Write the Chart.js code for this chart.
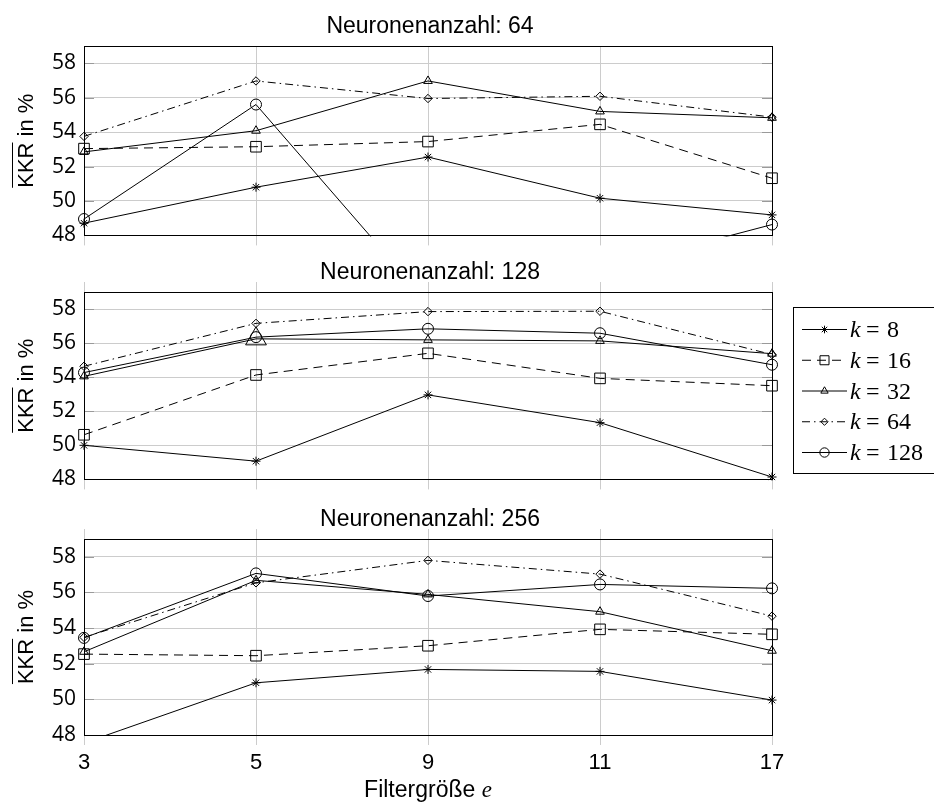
<!DOCTYPE html>
<html>
<head>
<meta charset="utf-8">
<script src="https://cdn.jsdelivr.net/npm/chart.js@4.4.1/dist/chart.umd.min.js"></script>
<style>
    body { margin: 0; background: #fff; width: 934px; height: 810px; position: relative; overflow: hidden; }
    canvas { position: absolute; left: 0; }
</style>
</head>
<body>
<canvas id="c64" width="934" height="256" style="top:0px"></canvas>
<canvas id="c128" width="934" height="250" style="top:250px"></canvas>
<canvas id="c256" width="934" height="310" style="top:500px"></canvas>
<script>
// Data
const filterSizes = ['3', '5', '9', '11', '17'];
const kValues = [8, 16, 32, 64, 128];
const yTickValues = [48, 50, 52, 54, 56, 58];
const yMin = 48;
const yMax = 59;

// Neuronenanzahl: 64
const n64_k8 = [48.71, 50.80, 52.55, 50.16, 49.19];
const n64_k16 = [53.04, 53.15, 53.45, 54.45, 51.32];
const n64_k32 = [52.85, 54.08, 56.97, 55.20, 54.83];
const n64_k64 = [53.75, 56.97, 55.95, 56.08, 54.87];
const n64_k128 = [48.95, 55.60, 44.10, 46.00, 48.63];

// Neuronenanzahl: 128
const n128_k8 = [50.00, 49.07, 52.96, 51.33, 48.14];
const n128_k16 = [50.62, 54.13, 55.40, 53.93, 53.50];
const n128_k32 = [54.05, 56.25, 56.19, 56.13, 55.38];
const n128_k64 = [54.64, 57.16, 57.85, 57.87, 55.33];
const n128_k128 = [54.27, 56.35, 56.84, 56.58, 54.73];

// Neuronenanzahl: 256
const n256_k8 = [47.55, 50.93, 51.68, 51.57, 49.96];
const n256_k16 = [52.54, 52.45, 53.01, 53.93, 53.65];
const n256_k32 = [52.67, 56.68, 55.89, 54.92, 52.73];
const n256_k64 = [53.48, 56.54, 57.80, 57.03, 54.67];
const n256_k128 = [53.45, 57.07, 55.80, 56.45, 56.23];

// Styles per series (k = 8, 16, 32, 64, 128)
const seriesStyle = [
    { pointStyle: 'star', radius: 4.5, dash: [] },
    { pointStyle: 'rect', radius: 7.5, dash: [9, 6] },
    { pointStyle: 'triangle', radius: 5, dash: [] },
    { pointStyle: 'rectRot', radius: 4.2, dash: [8, 4, 1.5, 4] },
    { pointStyle: 'circle', radius: 5.5, dash: [] }
];

const GRID = '#cccccc';
const TICKMARK = '#9a9a9a';
const SANS = '"Liberation Sans", Arial, sans-serif';
const SERIF = '"Liberation Serif", "DejaVu Serif", serif';

Chart.defaults.font.family = SANS;
Chart.defaults.color = '#000';

const panels = [
    { id: 'c64', neurons: 64, series: [n64_k8, n64_k16, n64_k32, n64_k64, n64_k128],
      padTop: 46, xHeight: 14, topTicks: false },
    { id: 'c128', neurons: 128, series: [n128_k8, n128_k16, n128_k32, n128_k64, n128_k128],
      padTop: 32, xHeight: 12, topTicks: true, legend: true, bigMarker: { series: 2, index: 1, radius: 12 } },
    { id: 'c256', neurons: 256, series: [n256_k8, n256_k16, n256_k32, n256_k64, n256_k128],
      padTop: 29, xHeight: 75, topTicks: true, xLabels: true }
];

// Legend drawn inside the middle canvas
function drawLegend(ctx) {
    const boxTop = 57.5, boxBottom = 223.5;
    ctx.save();
    ctx.strokeStyle = '#000';
    ctx.lineWidth = 1;
    ctx.setLineDash([]);
    ctx.strokeRect(793.5, boxTop, 160, boxBottom - boxTop);

    kValues.forEach((k, i) => {
        const st = seriesStyle[i];
        const y = 79 + i * 30.75;
        ctx.beginPath();
        ctx.setLineDash(st.dash);
        ctx.moveTo(802, y + 0.5);
        ctx.lineTo(847, y + 0.5);
        ctx.stroke();
        ctx.setLineDash([]);
        ctx.fillStyle = 'rgba(0,0,0,0)';
        Chart.helpers.drawPoint(ctx, { pointStyle: st.pointStyle, radius: st.radius * 0.85, rotation: 0, borderWidth: 1 }, 824.5, y + 0.5);

        ctx.fillStyle = '#000';
        ctx.textBaseline = 'alphabetic';
        ctx.textAlign = 'left';
        ctx.font = 'italic 24px ' + SERIF;
        ctx.fillText('k', 850, y + 8);
        ctx.font = '24px ' + SERIF;
        ctx.fillText('=', 866, y + 8);
        ctx.fillText(String(k), 887, y + 8);
    });
    ctx.restore();
}

function panelPlugin(panel) {
    return {
        id: 'panelDecor',
        beforeDatasetsDraw(chart) {
            const { ctx, chartArea: a, scales } = chart;
            ctx.save();
            // short tick marks inside the frame
            ctx.strokeStyle = TICKMARK;
            ctx.lineWidth = 1;
            yTickValues.forEach(v => {
                const y = Math.round(scales.y.getPixelForValue(v)) + 0.5;
                ctx.beginPath();
                ctx.moveTo(a.left, y); ctx.lineTo(a.left + 10, y);
                ctx.moveTo(a.right - 10, y); ctx.lineTo(a.right, y);
                ctx.stroke();
            });
            ctx.restore();
        },
        afterDraw(chart) {
            const { ctx, chartArea: a } = chart;
            ctx.save();
            // frame
            ctx.strokeStyle = '#000';
            ctx.lineWidth = 1;
            ctx.strokeRect(Math.round(a.left) + 0.5, Math.round(a.top) + 0.5,
                Math.round(a.right - a.left), Math.round(a.bottom - a.top));

            // panel title
            ctx.fillStyle = '#000';
            ctx.font = '23px ' + SANS;
            ctx.textAlign = 'center';
            ctx.textBaseline = 'alphabetic';
            ctx.fillText('Neuronenanzahl: ' + panel.neurons, 430, a.top - 13.5);

            // y title with overline over KKR
            const cy = (a.top + a.bottom) / 2;
            ctx.translate(33, cy);
            ctx.rotate(-Math.PI / 2);
            ctx.font = '22px ' + SANS;
            const full = 'KKR in %';
            const w = ctx.measureText(full).width;
            const wk = ctx.measureText('KKR').width;
            ctx.fillText(full, 0, 0);
            ctx.beginPath();
            ctx.moveTo(-w / 2, -20.5);
            ctx.lineTo(-w / 2 + wk, -20.5);
            ctx.stroke();
            ctx.setTransform(1, 0, 0, 1, 0, 0);

            if (panel.xLabels) {
                const part1 = 'Filtergröße ';
                ctx.font = '23px ' + SANS;
                const w1 = ctx.measureText(part1).width;
                ctx.font = 'italic 23px ' + SERIF;
                const w2 = ctx.measureText('e').width;
                const x0 = 428 - (w1 + w2) / 2;
                ctx.textAlign = 'left';
                ctx.font = '23px ' + SANS;
                ctx.fillText(part1, x0, 297);
                ctx.font = 'italic 23px ' + SERIF;
                ctx.fillText('e', x0 + w1, 297);
            }
            if (panel.legend) drawLegend(ctx);
            ctx.restore();
        }
    };
}

function buildChart(panel) {
    const datasets = panel.series.map((values, i) => {
        const st = seriesStyle[i];
        let radius = st.radius;
        if (panel.bigMarker && panel.bigMarker.series === i) {
            radius = values.map((_, j) => j === panel.bigMarker.index ? panel.bigMarker.radius : st.radius);
        }
        return {
            label: 'k = ' + kValues[i],
            data: values,
            borderColor: '#000',
            borderWidth: 1,
            borderDash: st.dash,
            tension: 0,
            fill: false,
            pointStyle: st.pointStyle,
            pointRadius: radius,
            pointBorderColor: '#000',
            pointBackgroundColor: 'rgba(0,0,0,0)',
            pointBorderWidth: 1,
            clip: { left: 14, right: 14, top: 14, bottom: 1 }
        };
    });

    const scales = {
        x: {
            type: 'category',
            position: 'bottom',
            offset: false,
            grid: { color: GRID, tickLength: 10, offset: false, lineWidth: 1 },
            border: { display: false },
            ticks: {
                display: !!panel.xLabels,
                padding: 5,
                font: { size: 22, family: SANS },
                color: '#000',
                maxRotation: 0
            },
            afterFit(scale) { scale.height = panel.xHeight; }
        },
        y: {
            type: 'linear',
            position: 'left',
            min: yMin,
            max: yMax,
            ticks: {
                stepSize: 2,
                padding: 8,
                font: { size: 21, family: '"Open Sans", ' + SANS },
                color: '#000'
            },
            afterBuildTicks(scale) {
                scale.ticks = yTickValues.map(v => ({ value: v }));
            },
            grid: { color: GRID, drawTicks: false, lineWidth: 1 },
            border: { display: false },
            afterFit(scale) { scale.width = 84; }
        }
    };
    if (panel.topTicks) {
        scales.x2 = {
            type: 'category',
            position: 'top',
            offset: false,
            grid: { color: GRID, tickLength: 10, drawOnChartArea: false, offset: false },
            border: { display: false },
            ticks: { display: false },
            afterFit(scale) { scale.height = 10; }
        };
    }

    return new Chart(document.getElementById(panel.id), {
        type: 'line',
        data: { labels: filterSizes, datasets },
        options: {
            responsive: false,
            animation: false,
            devicePixelRatio: 1,
            layout: { padding: { top: panel.padTop, left: 0, right: 162, bottom: 0 } },
            plugins: { legend: { display: false }, title: { display: false }, tooltip: { enabled: false } },
            scales
        },
        plugins: [panelPlugin(panel)]
    });
}

panels.forEach(buildChart);
</script>
</body>
</html>
